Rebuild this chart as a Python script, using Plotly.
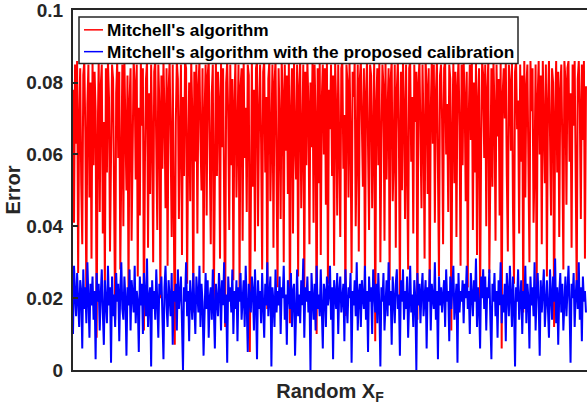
import plotly.graph_objects as go

# Error values (in units of 1e-3)
mitchell_err_milli = [
    78, 41, 85, 63, 86, 27, 70, 84, 52, 35, 82, 86, 66, 18, 74, 85, 48, 80, 31, 86,
    57, 83, 72, 9, 64, 86, 44, 79, 85, 38, 69, 23, 84, 55, 86, 76, 33, 61, 85, 81,
    46, 14, 77, 86, 59, 83, 28, 71, 85, 40, 86, 67, 50, 82, 21, 75, 84, 36, 62, 86,
    80, 53, 85, 26, 73, 43, 86, 68, 84, 11, 58, 81, 86, 34, 77, 49, 85, 65, 30, 83,
    86, 60, 39, 85, 74, 20, 82, 56, 86, 71, 45, 84, 29, 78, 86, 63, 37, 85, 52, 7,
    69, 86, 81, 42, 66, 85, 32, 76, 54, 86, 84, 24, 61, 80, 47, 86, 72, 16, 83, 58,
    85, 38, 79, 86, 64, 50, 84, 27, 71, 85, 43, 82, 86, 60, 35, 77, 85, 19, 68, 86,
    54, 83, 75, 31, 86, 62, 84, 46, 12, 80, 86, 70, 39, 85, 57, 81, 25, 74, 86, 48,
    66, 85, 22, 79, 84, 36, 86, 59, 73, 44, 85, 82, 5, 67, 86, 51, 78, 33, 84, 86,
    40, 71, 85, 63, 28, 83, 86, 55, 76, 17, 81, 86, 47, 65, 85, 34, 80, 86, 58, 23,
    84, 69, 42, 86, 77, 30, 85, 61, 82, 49, 86, 13, 72, 84, 38, 86, 64, 53, 85, 26,
    79, 86, 45, 68, 85, 21, 83, 57, 86, 74, 35, 80, 62, 86, 41, 85, 70, 10, 84, 52,
    86, 32, 75, 85, 60, 84, 46, 86, 24, 78, 67, 85, 54, 82, 29, 86, 73, 43, 85, 63,
    37, 84, 86, 56, 71, 15, 85, 80, 48, 86, 65, 27, 83, 76, 86, 40, 59, 85, 33, 81,
    86, 70, 51, 84, 22, 77, 86, 62, 39, 85, 82, 45, 68, 86, 8, 74, 84, 57, 86, 30,
    64, 85, 79, 36, 86, 53, 72, 84, 25, 81, 86, 47, 60, 85, 34, 78, 86, 66, 19, 83,
    50, 86, 73, 42, 85, 61, 28, 84, 86, 58, 76, 38, 85, 69, 83, 14, 80, 86, 54, 45,
    85, 67, 31, 86, 79, 49, 84, 20, 72, 86, 63, 85, 41, 77, 86, 56, 26, 82, 85, 70,
    35, 84, 86, 60, 74, 44, 85, 81, 11, 66, 86, 52, 83, 37, 79, 86, 68, 29, 85, 57,
    86, 76, 47, 83, 23, 71, 85, 64, 86, 39, 80, 55, 86, 32, 75, 84, 18, 62, 86, 82,
    59, 85, 40, 78, 86, 27, 69, 84, 51, 86, 73, 36, 85, 65, 81, 43, 86, 6, 77, 84,
    70, 86, 54, 33, 85, 80, 61, 86, 45, 24, 83, 86, 67, 75, 38, 85, 58, 82, 16, 86,
    48, 79, 85, 63, 30, 86, 72, 84, 41, 57, 85, 21, 76, 86, 60, 82, 35, 86, 69, 52,
    85, 26, 74, 86, 66, 43, 84, 80, 12, 71, 86, 55, 83, 37, 78, 85, 62, 28, 86, 81,
    46, 84, 86, 58, 77, 34, 85, 68, 86, 50, 22, 81, 86, 73, 42, 85, 64, 86, 31, 79,
]

calibrated_err_milli = [
    10, 29, 21, 15, 27, 19, 12, 25, 22, 6, 28, 17, 23, 13, 30, 20, 9, 24, 18, 26,
    14, 22, 3, 27, 19, 24, 11, 21, 28, 16, 7, 25, 20, 13, 29, 18, 23, 2, 26, 15,
    21, 12, 27, 19, 24, 8, 22, 30, 17, 14, 26, 20, 4, 23, 18, 28, 11, 25, 21, 16,
    29, 13, 22, 19, 5, 26, 18, 24, 10, 27, 21, 15, 31, 12, 20, 23, 1, 25, 17, 22,
    14, 28, 19, 9, 24, 21, 26, 16, 3, 23, 29, 18, 12, 25, 20, 15, 27, 7, 22, 19,
    24, 11, 28, 17, 21, 26, 13, 0, 23, 19, 30, 15, 22, 8, 25, 20, 14, 27, 18, 10,
    26, 21, 16, 29, 12, 24, 19, 4, 22, 27, 17, 25, 9, 20, 23, 14, 28, 18, 6, 24,
    20, 15, 27, 22, 11, 25, 18, 30, 13, 21, 2, 26, 19, 23, 16, 28, 10, 22, 17, 25,
    8, 23, 19, 27, 14, 21, 25, 12, 29, 18, 5, 24, 20, 16, 26, 22, 11, 28, 19, 3,
    25, 17, 22, 13, 27, 20, 9, 24, 18, 30, 15, 21, 26, 1, 23, 19, 12, 28, 16, 22,
    18, 26, 10, 23, 20, 29, 14, 21, 7, 25, 19, 17, 27, 12, 22, 24, 4, 20, 28, 15,
    21, 13, 25, 18, 31, 9, 23, 19, 26, 16, 22, 0, 27, 20, 14, 24, 11, 29, 17, 21,
    15, 28, 19, 6, 24, 22, 12, 26, 18, 21, 29, 14, 23, 3, 25, 20, 17, 27, 10, 22,
    26, 16, 21, 24, 8, 28, 19, 13, 23, 20, 27, 2, 22, 18, 25, 15, 30, 11, 21, 24,
    12, 25, 20, 17, 29, 14, 22, 5, 26, 19, 23, 10, 28, 21, 16, 24, 13, 27, 18, 1,
    23, 19, 27, 11, 21, 25, 15, 30, 18, 22, 7, 26, 20, 13, 24, 28, 17, 21, 4, 25,
    19, 28, 14, 22, 17, 26, 9, 23, 29, 16, 21, 12, 25, 20, 0, 27, 18, 24, 13, 22,
    27, 15, 21, 25, 6, 23, 19, 28, 11, 24, 20, 17, 30, 14, 22, 3, 26, 18, 23, 16,
    21, 25, 12, 28, 19, 22, 8, 26, 17, 23, 29, 14, 20, 24, 2, 27, 16, 22, 19, 25,
    13, 24, 20, 29, 17, 22, 10, 27, 21, 15, 25, 19, 31, 12, 23, 18, 6, 26, 20, 28,
    17, 26, 11, 23, 20, 28, 14, 3, 24, 19, 27, 15, 22, 9, 25, 18, 30, 13, 21, 16,
    24, 8, 27, 20, 15, 29, 22, 12, 26, 18, 1, 23, 19, 28, 14, 21, 25, 10, 22, 17,
    29, 13, 24, 20, 6, 26, 18, 23, 15, 30, 11, 21, 27, 19, 4, 25, 16, 22, 28, 12,
    20, 25, 17, 9, 28, 22, 14, 26, 19, 31, 13, 23, 7, 21, 27, 16, 24, 11, 20, 26,
    15, 22, 29, 18, 2, 24, 20, 27, 12, 21, 25, 17, 30, 14, 23, 8, 26, 19, 22, 16,
]

series_names = ["Mitchell's algorithm", "Mitchell's algorithm with the proposed calibration"]
series_colors = ["#FF0000", "#0000FF"]
y_tick_vals = [0, 0.02, 0.04, 0.06, 0.08, 0.1]
y_tick_text = ["0", "0.02", "0.04", "0.06", "0.08", "0.1"]

mitchell_err = [v / 1000 for v in mitchell_err_milli]
calibrated_err = [v / 1000 for v in calibrated_err_milli]
sample_idx = list(range(1, len(mitchell_err) + 1))

AX = "#262626"
FONT = "Arial, Liberation Sans, sans-serif"

fig = go.Figure()
fig.add_trace(go.Scatter(x=sample_idx, y=mitchell_err, mode="lines",
                         line=dict(color=series_colors[0], width=2), name=series_names[0]))
fig.add_trace(go.Scatter(x=sample_idx, y=calibrated_err, mode="lines",
                         line=dict(color=series_colors[1], width=2), name=series_names[1]))

# Legend box drawn in paper coordinates (plot area: 73..587 px wide, 7..370 px tall)
W, H, L, T = 514.0, 363.0, 73.0, 7.0
def px(xp):
    return (xp - L) / W
def py(yp):
    return (T + H - yp) / H

shapes = [dict(type="rect", xref="paper", yref="paper",
               x0=px(79), x1=px(518), y0=py(61), y1=py(14),
               line=dict(color=AX, width=1.5), fillcolor="white", layer="above")]
annotations = []
for i, (name, col) in enumerate(zip(series_names, series_colors)):
    row_y = 27 + 22 * i
    shapes.append(dict(type="line", xref="paper", yref="paper",
                       x0=px(84), x1=px(103), y0=py(row_y), y1=py(row_y),
                       line=dict(color=col, width=1.5), layer="above"))
    annotations.append(dict(xref="paper", yref="paper", x=px(105), y=py(row_y),
                            xanchor="left", yanchor="middle", showarrow=False,
                            text="<b>" + name + "</b>",
                            font=dict(family=FONT, size=17.3, color="black")))

fig.update_layout(
    width=587, height=411,
    margin=dict(l=73, r=0, t=7, b=41),
    paper_bgcolor="white", plot_bgcolor="white",
    font=dict(family=FONT, color=AX),
    showlegend=False,
    shapes=shapes,
    annotations=annotations,
    xaxis=dict(
        range=[1, 501], showgrid=False, zeroline=False,
        showline=True, linecolor=AX, linewidth=2, mirror=True,
        showticklabels=False, ticks="",
        title=dict(text="<b>Random X<sub>F</sub></b>", font=dict(size=20, color=AX), standoff=13),
    ),
    yaxis=dict(
        range=[0, 0.1002], showgrid=False, zeroline=False,
        showline=True, linecolor=AX, linewidth=2,
        tickvals=y_tick_vals, ticktext=y_tick_text,
        ticks="inside", ticklen=5, tickwidth=1.5, tickcolor=AX,
        tickfont=dict(size=19, color=AX, weight="bold"),
        ticklabelstandoff=4, ticklabeloverflow="allow",
        title=dict(text="<b>Error</b>", font=dict(size=20, color=AX), standoff=0),
    ),
)

fig.write_html("out.html")
